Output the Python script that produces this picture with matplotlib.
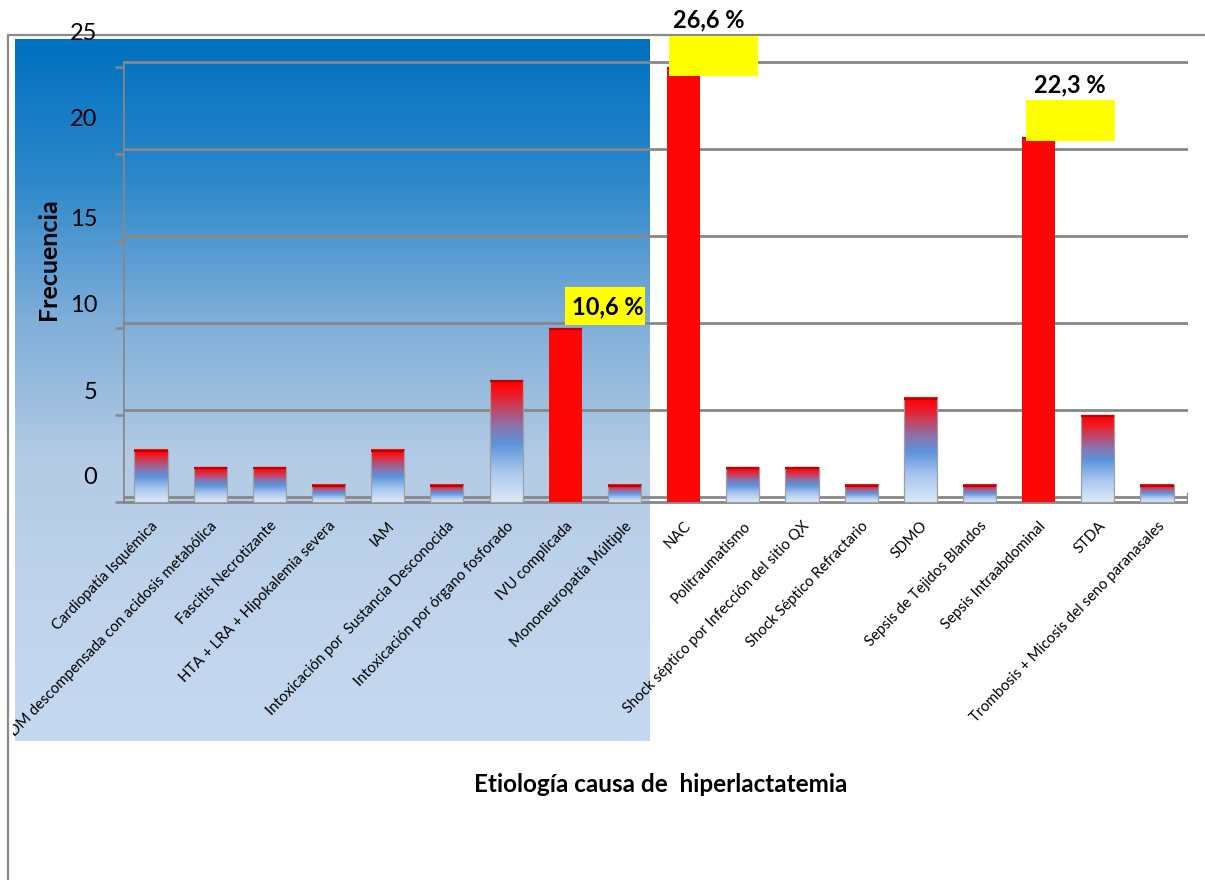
import numpy as np
import matplotlib
matplotlib.use("Agg")
import matplotlib.pyplot as plt
from matplotlib.colors import LinearSegmentedColormap
from matplotlib.patches import Rectangle
from matplotlib.lines import Line2D
import matplotlib.transforms as mtransforms

plt.rcParams['font.family'] = ['Lato', 'DejaVu Sans']

categorias = [
    "Cardiopatía Isquémica",
    "DM descompensada con acidosis metabólica",
    "Fascitis Necrotizante",
    "HTA + LRA + Hipokalemia severa",
    "IAM",
    "Intoxicación por  Sustancia Desconocida",
    "Intoxicación por órgano fosforado",
    "IVU complicada",
    "Mononeuropatía Múltiple",
    "NAC",
    "Politraumatismo",
    "Shock séptico por Infección del sitio QX",
    "Shock Séptico Refractario",
    "SDMO",
    "Sepsis de Tejidos Blandos",
    "Sepsis Intraabdominal",
    "STDA",
    "Trombosis + Micosis del seno paranasales",
]
frecuencia = [3, 2, 2, 1, 3, 1, 7, 10, 1, 25, 2, 2, 1, 6, 1, 21, 5, 1]
destacados = ["IVU complicada", "NAC", "Sepsis Intraabdominal"]
y_ticks = [0, 5, 10, 15, 20, 25]

total = sum(frecuencia)
FIG_W, FIG_H = 1205, 880
fig = plt.figure(figsize=(FIG_W / 100, FIG_H / 100), dpi=100)

# background layer in pixel coordinates (y downwards)
bg = fig.add_axes([0, 0, 1, 1], zorder=0)
bg.axis('off')
panel_cmap = LinearSegmentedColormap.from_list(
    'panel', ['#0070C0', '#2C88CA', '#7FAED9', '#B4CBE5', '#BFD3EC', '#C5D9F1'])
grad = np.linspace(0, 1, 256).reshape(-1, 1)
bg.imshow(grad, extent=(15, 650, 741, 39), cmap=panel_cmap, aspect='auto',
          origin='upper', interpolation='bilinear')
bg.add_line(Line2D([8, 8, FIG_W], [FIG_H, 35, 35], color='#8a8a8a', lw=1.6))
bg.set_xlim(0, FIG_W)
bg.set_ylim(FIG_H, 0)

# main axes
xlim = (-0.47, 17.52)
ylim = (-0.3, 26.0)
px_y = 17.4
ax_left, ax_right = 123.2, 1187.8
ax_bottom = 502 + 0.3 * px_y
ax_top = 502 - 26.0 * px_y
ax = fig.add_axes([ax_left / FIG_W, 1 - ax_bottom / FIG_H,
                   (ax_right - ax_left) / FIG_W, (ax_bottom - ax_top) / FIG_H], zorder=1)
ax.set_facecolor('none')
for s in ax.spines.values():
    s.set_visible(False)

grid_c = '#878787'
# back wall gridlines and left wall
for v in y_ticks:
    ax.plot([xlim[0], xlim[1]], [v + 0.3, v + 0.3], color=grid_c, lw=2.0,
            solid_capstyle='butt', zorder=1)
ax.plot([xlim[0], xlim[0]], [0, 25.3], color=grid_c, lw=1.8, zorder=1)
# floor front edge
ax.plot([xlim[0] - 0.08, xlim[1] + 0.02], [0, 0], color=grid_c, lw=2.0, zorder=1)
ax.plot([xlim[1], xlim[1]], [0, 0.45], color=grid_c, lw=1.6, zorder=1)

x = np.arange(len(categorias))
w = 0.56
colors = ['#FF0606' if c in destacados else 'none' for c in categorias]
bars = ax.bar(x, frecuencia, width=w, color=colors, zorder=4, linewidth=0)

bar_cmap = LinearSegmentedColormap.from_list(
    'bar', [(0.0, '#DCE8F8'), (0.25, '#A9C7EE'), (0.48, '#5B93DC'),
            (0.62, '#8A74AE'), (0.78, '#C8405C'), (0.9, '#F5141E'), (1.0, '#FF0000')])
for b, c in zip(bars, categorias):
    bx, bw, bh = b.get_x(), b.get_width(), b.get_height()
    if c not in destacados:
        ax.imshow(grad, extent=(bx, bx + bw, 0, bh), cmap=bar_cmap, origin='lower',
                  aspect='auto', zorder=3, interpolation='bilinear')
        ax.add_patch(Rectangle((bx, 0), bw, bh, fill=False, ec='#a0a0a0', lw=0.9, zorder=5))
    ax.plot([bx, bx + bw], [bh - 0.06, bh - 0.06], color='#C00000', lw=1.6,
            solid_capstyle='butt', zorder=6)

# y ticks: marks on the wall front, labels sit higher
ax.set_yticks(y_ticks)
ax.set_yticklabels([str(v) for v in y_ticks])
ax.tick_params(axis='y', length=5.8, width=1.8, color=grid_c, labelsize=17, pad=13)
label_lift = [27, 25, 24, 23, 36, 35]
for lab, dy in zip(ax.get_yticklabels(), label_lift):
    lab.set_transform(lab.get_transform() +
                      mtransforms.ScaledTranslation(0, dy / 100, fig.dpi_scale_trans))

ax.set_xticks(x)
ax.set_xticklabels(categorias, rotation=46, ha='right', va='center',
                   rotation_mode='anchor', fontsize=10.7)
ax.tick_params(axis='x', length=0, pad=12)
xoff = mtransforms.ScaledTranslation(0.05, 0, fig.dpi_scale_trans)
# the chart area cuts off text running past its left edge
area_clip = mtransforms.TransformedBbox(
    mtransforms.Bbox([[13 / FIG_W, 0], [1, 1]]), fig.transFigure)
for lab in ax.get_xticklabels():
    lab.set_transform(lab.get_transform() + xoff)
    lab.set_clip_box(area_clip)
    lab.set_clip_on(True)

ax.set_xlim(*xlim)
ax.set_ylim(*ylim)

# percentage labels on highlighted bars
px_x = (ax_right - ax_left) / (xlim[1] - xlim[0])
label_style = {
    "IVU complicada": dict(box=(0, 3, 80, 38), txt=(78, 21)),
    "NAC": dict(box=(-15, -9, 89, 40), txt=(25, 47)),
    "Sepsis Intraabdominal": dict(box=(-13, -4, 89, 41), txt=(31, 52)),
}
for i, c in enumerate(categorias):
    if c not in label_style:
        continue
    st = label_style[c]
    v = frecuencia[i]
    bx0, by0, bw_, bh_ = st['box']
    ax.add_patch(Rectangle((i + bx0 / px_x, v + by0 / px_y), bw_ / px_x, bh_ / px_y,
                           fc='#FFFF00', ec='none', zorder=7, clip_on=False))
    pct = f"{100 * v / total:.1f} %".replace('.', ',')
    tx, ty = st['txt']
    ha = 'right' if c == "IVU complicada" else 'center'
    ax.text(i + tx / px_x, v + ty / px_y, pct, fontsize=17, fontweight='bold',
            ha=ha, va='center', zorder=8, clip_on=False)

fig.text(49 / FIG_W, 1 - 259 / FIG_H, "Frecuencia", rotation=90, fontsize=18,
         fontweight='bold', ha='center', va='center')
fig.text(661 / FIG_W, 1 - 784 / FIG_H, "Etiología causa de  hiperlactatemia",
         fontsize=17.5, fontweight='bold', ha='center', va='center')

fig.savefig("out.png", dpi=100)
